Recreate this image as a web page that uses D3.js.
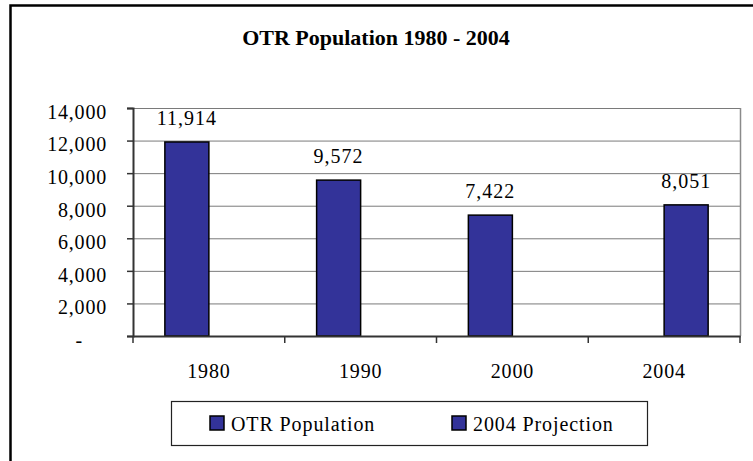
<!DOCTYPE html>
<html lang="en">
<head>
    <meta charset="UTF-8">
    <title>OTR Population 1980 - 2004</title>
    <script src="https://d3js.org/d3.v7.min.js"></script>
    <style>
        body { margin: 0; background: #fff; }
        svg, svg text { font-family: "Liberation Serif", "Times New Roman", serif; fill: #000; }
        .title { font-size: 22px; font-weight: bold; }
        .tick text { font-size: 20px; letter-spacing: 0.8px; }
        .value-label { font-size: 20px; text-anchor: middle; letter-spacing: 1px; }
        .legend-text { font-size: 20px; letter-spacing: 0.9px; }
    </style>
</head>
<body>
    <svg width="753" height="461"></svg>
    <script>
        // data
        const years = ["1980", "1990", "2000", "2004"];
        const seriesNames = ["OTR Population", "2004 Projection"];
        const otrPopulation = [11914, 9572, 7422, null];
        const projection2004 = [null, null, null, 8051];
        const yTicks = [0, 2000, 4000, 6000, 8000, 10000, 12000, 14000];

        const fontStack = '"Liberation Serif", "Times New Roman", serif';
        const plot = { left: 133, right: 740, top: 108, bottom: 336 };
        const svg = d3.select("svg").attr("font-family", fontStack);

        // outer frame (runs off the right and bottom edges)
        svg.append("rect")
            .attr("x", 10.5).attr("y", 5.5)
            .attr("width", 800).attr("height", 500)
            .attr("fill", "none")
            .attr("stroke", "#000")
            .attr("stroke-width", 2.5);

        svg.append("text")
            .attr("class", "title")
            .attr("x", 376)
            .attr("y", 45)
            .attr("text-anchor", "middle")
            .text("OTR Population 1980 - 2004");

        const x = d3.scaleBand()
            .domain(years)
            .range([plot.left, plot.right])
            .padding(0);

        // two series side by side inside each year, Excel-style
        const xs = d3.scaleBand()
            .domain(seriesNames)
            .range([0, x.bandwidth()])
            .paddingInner(0)
            .paddingOuter(0.724);

        const y = d3.scaleLinear()
            .domain([0, 14000])
            .range([plot.bottom, plot.top]);

        const fmt = d3.format(",");

        // gridlines
        svg.append("g")
            .selectAll("line")
            .data(yTicks.slice(1))
            .join("line")
            .attr("x1", plot.left).attr("x2", plot.right)
            .attr("y1", d => y(d) + 0.5).attr("y2", d => y(d) + 0.5)
            .attr("stroke", "#7a7a7a")
            .attr("stroke-width", 1);

        // plot border right side
        svg.append("line")
            .attr("x1", plot.right + 0.5).attr("x2", plot.right + 0.5)
            .attr("y1", plot.top).attr("y2", plot.bottom)
            .attr("stroke", "#8a8a8a")
            .attr("stroke-width", 1.5);

        // bars
        const seriesData = [
            { name: seriesNames[0], values: otrPopulation },
            { name: seriesNames[1], values: projection2004 }
        ];
        const bars = [];
        seriesData.forEach(s => {
            s.values.forEach((v, i) => {
                if (v != null) bars.push({ series: s.name, year: years[i], value: v });
            });
        });

        svg.append("g")
            .selectAll("rect")
            .data(bars)
            .join("rect")
            .attr("x", d => x(d.year) + xs(d.series))
            .attr("y", d => y(d.value))
            .attr("width", xs.bandwidth())
            .attr("height", d => y(0) - y(d.value))
            .attr("fill", "#333399")
            .attr("stroke", "#000")
            .attr("stroke-width", 1.5);

        svg.append("g")
            .selectAll("text")
            .data(bars)
            .join("text")
            .attr("class", "value-label")
            .attr("x", d => x(d.year) + xs(d.series) + xs.bandwidth() / 2)
            .attr("y", d => y(d.value) - 17)
            .text(d => fmt(d.value));

        // y axis
        const yAxis = svg.append("g")
            .attr("transform", `translate(${plot.left},0)`)
            .call(d3.axisLeft(y)
                .tickValues(yTicks)
                .tickSize(6)
                .tickPadding(20)
                .tickFormat(d => d === 0 ? "-" : fmt(d)))
            .attr("font-family", fontStack);
        yAxis.select(".domain").attr("stroke", "#333").attr("stroke-width", 2);
        yAxis.selectAll(".tick line").attr("stroke", "#333").attr("stroke-width", 1.5);
        yAxis.selectAll(".tick text")
            .attr("dy", "0.52em")
            .attr("x", d => d === 0 ? -50 : -26);

        // x axis
        const xAxis = svg.append("g")
            .attr("transform", `translate(0,${plot.bottom})`)
            .call(d3.axisBottom(x).tickSize(0).tickPadding(28))
            .attr("font-family", fontStack);
        xAxis.select(".domain").attr("stroke", "#333").attr("stroke-width", 2);
        xAxis.selectAll(".tick text").attr("dy", "0.7em");
        xAxis.append("g")
            .selectAll("line")
            .data(years.map(d => x(d)).concat([plot.right]))
            .join("line")
            .attr("x1", d => d).attr("x2", d => d)
            .attr("y1", 0).attr("y2", 7)
            .attr("stroke", "#333")
            .attr("stroke-width", 1.5);

        // legend
        const legend = svg.append("g");
        legend.append("rect")
            .attr("x", 171.5).attr("y", 401.5)
            .attr("width", 476).attr("height", 44)
            .attr("fill", "#fff")
            .attr("stroke", "#222")
            .attr("stroke-width", 1.2);

        const legendX = [210, 452];
        const items = legend.selectAll("g.item")
            .data(seriesNames)
            .join("g")
            .attr("class", "item")
            .attr("transform", (d, i) => `translate(${legendX[i]},416)`);
        items.append("rect")
            .attr("width", 14).attr("height", 14)
            .attr("fill", "#333399")
            .attr("stroke", "#000")
            .attr("stroke-width", 1.5);
        items.append("text")
            .attr("class", "legend-text")
            .attr("x", 21)
            .attr("y", 15)
            .text(d => d);
    </script>
</body>
</html>
